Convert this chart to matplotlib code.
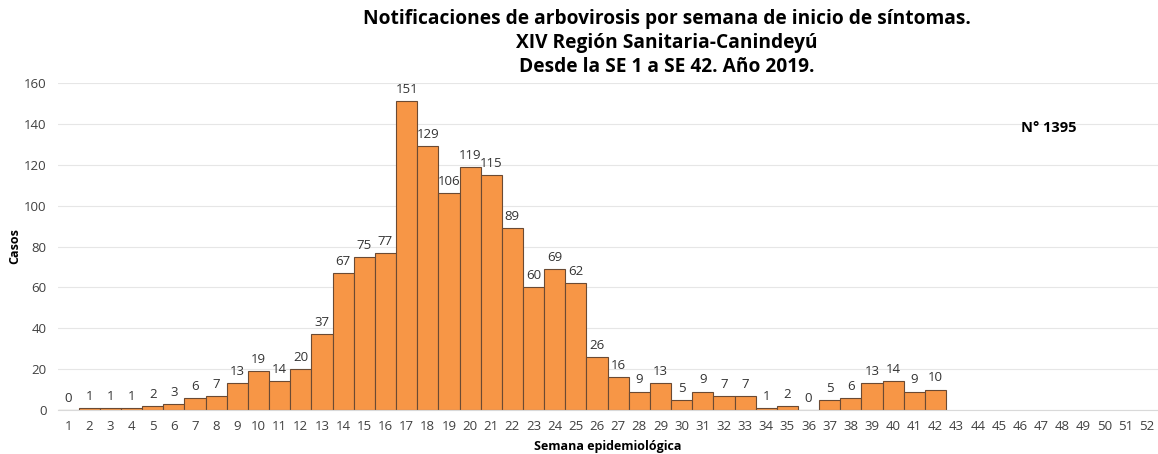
import matplotlib
matplotlib.use('Agg')
import matplotlib.pyplot as plt

weeks = list(range(1, 53))
cases = [0, 1, 1, 1, 2, 3, 6, 7, 13, 19, 14, 20, 37, 67, 75, 77, 151, 129, 106, 119,
         115, 89, 60, 69, 62, 26, 16, 9, 13, 5, 9, 7, 7, 1, 2, 0, 5, 6, 13, 14, 9, 10]
title = ("Notificaciones de arbovirosis por semana de inicio de síntomas.\n"
         "XIV Región Sanitaria-Canindeyú\n"
         "Desde la SE 1 a SE 42. Año 2019.")
total_label = "N° 1395"

plt.rcParams['font.family'] = ['Open Sans', 'DejaVu Sans']

fig = plt.figure(figsize=(11.58, 4.54), dpi=100)
ax = fig.add_axes([0.0497, 0.097, 0.95, 0.72])

x = weeks[:len(cases)]
bars = ax.bar(x, cases, width=1.0, color='#F79646', edgecolor='#6b4a33', linewidth=0.8)
for xi, v in zip(x, cases):
    ax.text(xi, v + 2.5, str(v), ha='center', va='bottom', fontsize=9.5, color='#333333')

ax.set_xlim(0.5, 52.5)
ax.set_ylim(0, 160)
ax.set_xticks(weeks)
ax.set_yticks(range(0, 161, 20))
ax.tick_params(axis='both', length=0, labelsize=9.5, colors='#404040')
ax.tick_params(axis='x', pad=7)
ax.tick_params(axis='y', pad=8)
ax.grid(axis='y', color='#e6e6e6', linewidth=0.8)
ax.set_axisbelow(True)
for s in ['top', 'right', 'left']:
    ax.spines[s].set_visible(False)
ax.spines['bottom'].set_color('#d9d9d9')

ax.set_xlabel("Semana epidemiológica", fontsize=9, fontweight='bold', labelpad=5)
ax.set_ylabel("Casos", fontsize=9, fontweight='bold', labelpad=0)
ax.yaxis.set_label_coords(-0.033, 0.5)

fig.text(0.576, 0.98, title, ha='center', va='top', fontsize=13.8,
         fontweight='bold', linespacing=1.25)
fig.text(0.906, 0.718, total_label, ha='center', va='center', fontsize=10.5, fontweight='bold')

fig.savefig('out.png', dpi=100)
